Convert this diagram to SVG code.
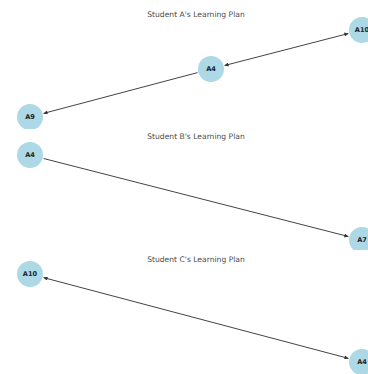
<svg xmlns="http://www.w3.org/2000/svg" width="368" height="374" viewBox="0 0 368 374">
<style>
.title{font-family:"DejaVu Sans",sans-serif;font-size:7.6px;fill:#4a4a4a;text-anchor:middle}
.node circle{fill:#add8e6}
.node text{font-family:"DejaVu Sans",sans-serif;font-size:6.6px;font-weight:bold;fill:#222;text-anchor:middle;dominant-baseline:central}
.edge{stroke:#444;stroke-width:1;fill:none}
</style>
<defs>
<marker id="ah" viewBox="0 0 10 10" refX="10" refY="5" markerWidth="5" markerHeight="4" markerUnits="userSpaceOnUse" orient="auto-start-reverse"><path d="M0,0 L10,5 L0,10 z" fill="#333"/></marker>
<clipPath id="cA"><rect x="0" y="0" width="368" height="129"/></clipPath>
<clipPath id="cB"><rect x="0" y="129" width="368" height="121"/></clipPath>
<clipPath id="cC"><rect x="0" y="250" width="368" height="124"/></clipPath>
</defs>
<rect width="368" height="374" fill="#fff"/>
<text class="title" x="196" y="17">Student A's Learning Plan</text>
<text class="title" x="196" y="139">Student B's Learning Plan</text>
<text class="title" x="196" y="262">Student C's Learning Plan</text>
<g id="connectors">
<line class="edge" x1="224.5" y1="65.5" x2="348.4" y2="33.5" marker-start="url(#ah)" marker-end="url(#ah)"/>
<line class="edge" x1="197.5" y1="72.6" x2="43.5" y2="113.4" marker-end="url(#ah)"/>
<line class="edge" x1="43.6" y1="158.5" x2="348.4" y2="236.5" marker-end="url(#ah)"/>
<line class="edge" x1="43.5" y1="277.6" x2="348.5" y2="358.4" marker-start="url(#ah)" marker-end="url(#ah)"/>
</g>
<g clip-path="url(#cA)">
<g id="A_A10" class="node"><circle cx="362" cy="30" r="13"/><text x="362" y="30">A10</text></g>
<g id="A_A4" class="node"><circle cx="211" cy="69" r="13"/><text x="211" y="69">A4</text></g>
<g id="A_A9" class="node"><circle cx="30" cy="117" r="13"/><text x="30" y="117">A9</text></g>
</g>
<g clip-path="url(#cB)">
<g id="B_A4" class="node"><circle cx="30" cy="155" r="13"/><text x="30" y="155">A4</text></g>
<g id="B_A7" class="node"><circle cx="362" cy="240" r="13"/><text x="362" y="240">A7</text></g>
</g>
<g clip-path="url(#cC)">
<g id="C_A10" class="node"><circle cx="30" cy="274" r="13"/><text x="30" y="274">A10</text></g>
<g id="C_A4" class="node"><circle cx="362" cy="362" r="13"/><text x="362" y="362">A4</text></g>
</g>
</svg>
